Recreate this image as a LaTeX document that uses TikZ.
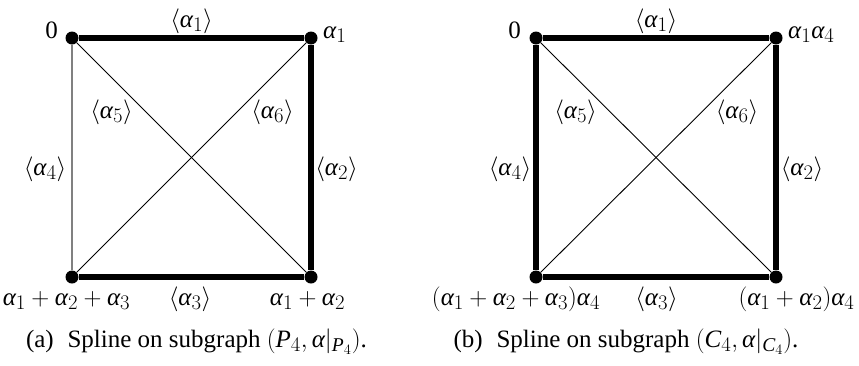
\documentclass[tikz,border=0pt]{standalone}
\usepackage{amsmath}
\usepackage{fontspec}
\setmainfont{Liberation Serif}
\DeclareMathSizes{25}{25}{19.5}{15}
\newcommand{\ga}{\text{\itshape α}}
\newcommand{\gP}{\text{\itshape P}}
\newcommand{\gC}{\text{\itshape C}}
\begin{document}
\begin{tikzpicture}[x=1pt,y=-1pt,
  vert/.style={circle,fill=black,inner sep=0pt,minimum size=13pt},
  heavy/.style={line width=5.5pt},
  light/.style={line width=0.9pt},
  greyedge/.style={line width=1.3pt,draw=gray},
  lab/.style={inner sep=0pt,anchor=base,font=\fontsize{25}{29}\selectfont},
  captext/.style={inner sep=0pt,anchor=base,font=\fontsize{25}{29}\selectfont}]
\useasboundingbox (0,0) rectangle (859,365);
% ---------- (a) ----------
\node[vert] (a1) at (72,38) {};
\node[vert] (a2) at (311,38) {};
\node[vert] (a3) at (311,277) {};
\node[vert] (a4) at (72,277) {};
\draw[light] (a1) -- (a3);
\draw[light] (a2) -- (a4);
\draw[greyedge] (a1) -- (a4);
\draw[heavy] (a1) -- (a2);
\draw[heavy] (a2) -- (a3);
\draw[heavy] (a3) -- (a4);
\node[lab,anchor=base east] (la1) at (58,38) {0};
\node[lab,anchor=base west] (la2) at (323,38) {$\ga_1$};
\node[lab] (la3) at (307.5,305) {$\ga_1+\ga_2$};
\node[lab] (la4) at (66.5,305) {$\ga_1+\ga_2+\ga_3$};
\node[lab] (ea1) at (191.5,27) {$\langle\ga_1\rangle$};
\node[lab] (ea2) at (336.5,175) {$\langle\ga_2\rangle$};
\node[lab] (ea3) at (190,305) {$\langle\ga_3\rangle$};
\node[lab] (ea4) at (45,175) {$\langle\ga_4\rangle$};
\node[lab] (ea5) at (111.5,118) {$\langle\ga_5\rangle$};
\node[lab] (ea6) at (272.5,118) {$\langle\ga_6\rangle$};
\node[captext] (capa) at (196.5,347) {(a)\hspace{0.55em}Spline on subgraph $(\gP_4,\ga|_{\gP_4})$.};
% ---------- (b) ----------
\node[vert] (b1) at (536,38) {};
\node[vert] (b2) at (776,38) {};
\node[vert] (b3) at (776,277) {};
\node[vert] (b4) at (536,277) {};
\draw[light] (b1) -- (b3);
\draw[light] (b2) -- (b4);
\draw[heavy] (b1) -- (b2);
\draw[heavy] (b2) -- (b3);
\draw[heavy] (b3) -- (b4);
\draw[heavy] (b4) -- (b1);
\node[lab,anchor=base east] (lb1) at (521,38) {0};
\node[lab,anchor=base west] (lb2) at (788,38) {$\ga_1\ga_4$};
\node[lab] (lb3) at (796.5,305) {$(\ga_1+\ga_2)\ga_4$};
\node[lab] (lb4) at (516,305) {$(\ga_1+\ga_2+\ga_3)\ga_4$};
\node[lab] (eb1) at (656,27) {$\langle\ga_1\rangle$};
\node[lab] (eb2) at (802,175) {$\langle\ga_2\rangle$};
\node[lab] (eb3) at (656.5,305) {$\langle\ga_3\rangle$};
\node[lab] (eb4) at (510,175) {$\langle\ga_4\rangle$};
\node[lab] (eb5) at (575.5,118) {$\langle\ga_5\rangle$};
\node[lab] (eb6) at (737,118) {$\langle\ga_6\rangle$};
\node[captext] (capb) at (626,347) {(b)\hspace{0.55em}Spline on subgraph $(\gC_4,\ga|_{\gC_4})$.};
\end{tikzpicture}
\end{document}
